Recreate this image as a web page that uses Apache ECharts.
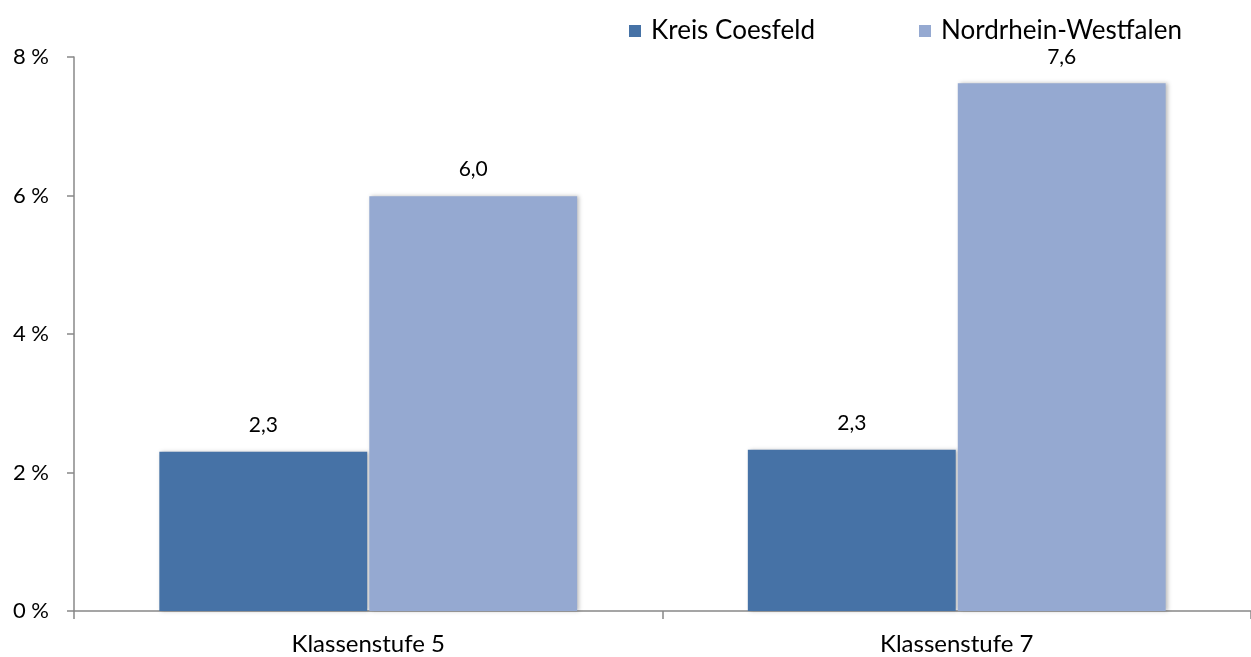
<!DOCTYPE html>
<html>
<head>
<meta charset="utf-8">
<script src="https://cdn.jsdelivr.net/npm/echarts@6/dist/echarts.min.js"></script>
<style>
html,body{margin:0;padding:0;background:#fff;}
#chart{width:1251px;height:657px;}
</style>
</head>
<body>
<div id="chart"></div>
<script>
var categories = ['Klassenstufe 5', 'Klassenstufe 7'];
var seriesNames = ['Kreis Coesfeld', 'Nordrhein-Westfalen'];
var kreisValues = [2.3, 2.33];
var nrwValues = [5.99, 7.62];
var yTicks = [0, 2, 4, 6, 8];

var FONT = 'Lato, "Open Sans", sans-serif';
var chart = echarts.init(document.getElementById('chart'));
function lbl(p){ return p.value.toFixed(1).replace('.', ','); }
var shadow = {shadowColor:'rgba(0,0,0,0.25)', shadowBlur:4, shadowOffsetX:2, shadowOffsetY:0};
chart.setOption({
  animation:false,
  backgroundColor:'#fff',
  textStyle:{fontFamily:FONT},
  legend:{
    top:13, left:624,
    itemWidth:12, itemHeight:12, itemGap:104,
    icon:'rect',
    textStyle:{fontSize:26, color:'#000', fontFamily:FONT, padding:[0,0,0,5]},
    data:seriesNames
  },
  grid:{left:74, right:0, top:57, bottom:46},
  xAxis:{
    type:'category', data:categories,
    axisLine:{lineStyle:{color:'#888', width:1.5}},
    axisTick:{show:true, length:8, lineStyle:{color:'#888', width:1.5}},
    axisLabel:{fontSize:24, color:'#000', margin:21, fontFamily:FONT}
  },
  yAxis:{
    type:'value', min:yTicks[0], max:yTicks[yTicks.length-1], interval:2,
    axisLine:{show:true, lineStyle:{color:'#888', width:1.5}},
    axisTick:{show:true, length:7, lineStyle:{color:'#888', width:1.5}},
    splitLine:{show:false},
    axisLabel:{fontSize:22, color:'#000', margin:25, fontFamily:FONT, formatter:function(v){return v+' %';}}
  },
  series:[
    {name:seriesNames[0], type:'bar', data:kreisValues, barCategoryGap:'29%', barGap:'1%',
     itemStyle:Object.assign({color:'#4672A6'}, shadow),
     label:{show:true, position:'top', distance:16, fontSize:21, color:'#000', fontFamily:FONT, formatter:lbl}},
    {name:seriesNames[1], type:'bar', data:nrwValues, barCategoryGap:'29%', barGap:'1%',
     itemStyle:Object.assign({color:'#95A9D1'}, shadow),
     label:{show:true, position:'top', distance:16, fontSize:21, color:'#000', fontFamily:FONT, formatter:lbl}}
  ]
});
</script>
</body>
</html>
